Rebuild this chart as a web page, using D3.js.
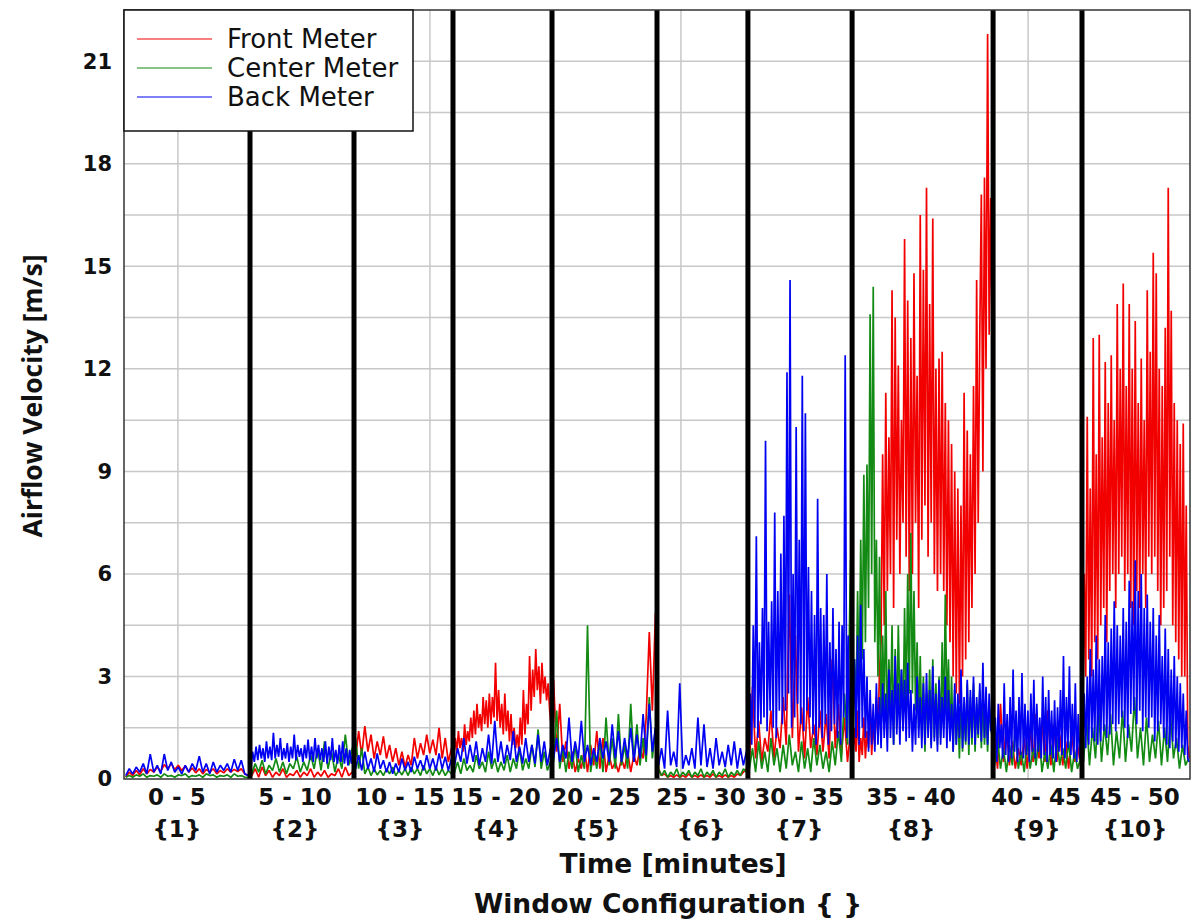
<!DOCTYPE html>
<html>
<head>
<meta charset="utf-8">
<script src="https://cdn.jsdelivr.net/npm/d3@7"></script>
<style>
  html, body { margin: 0; padding: 0; background: #fff; }
  svg { display: block; }
  text { font-family: "DejaVu Sans", sans-serif; fill: #111; }
  .bold { font-weight: bold; }
</style>
</head>
<body>
<div id="chart"></div>
<script>
// Page + plot frame
const WIDTH = 1194, HEIGHT = 920;
const PLOT = { left: 124, right: 1190, top: 10, bottom: 779 };

// Time axis (minutes of recording), split into the ten window configurations
const segmentEdges = [0, 6.265, 11.435, 16.357, 21.28, 26.5, 31.02, 36.2, 43.21, 47.63, 53];
const rangeLabels = ["0 - 5", "5 - 10", "10 - 15", "15 - 20", "20 - 25", "25 - 30", "30 - 35", "35 - 40", "40 - 45", "45 - 50"];
const configLabels = ["{1}", "{2}", "{3}", "{4}", "{5}", "{6}", "{7}", "{8}", "{9}", "{10}"];
const labelTimes = [2.63, 8.5, 13.72, 18.5, 23.47, 28.69, 33.56, 39.13, 45.35, 50.27];
const gridTimes = [2.68, 15.21, 27.69, 44.95];
const yTicks = [0, 3, 6, 9, 12, 15, 18, 21];
const yGrid = [1.5, 3, 4.5, 6, 7.5, 9, 10.5, 12, 13.5, 15, 16.5, 18, 19.5, 21];

const seriesNames = ["Front Meter", "Center Meter", "Back Meter"];
const seriesColors = ["#f20000", "#138a13", "#0000f2"];

// Airflow velocity [m/s], one list per configuration, samples evenly spaced in time
const frontMeter = [
  [0.05,0.2,0.1,0.25,0.12,0.3,0.15,0.28,0.2,0.35,0.22,0.42,0.3,0.45,0.28,0.4,0.25,0.38,0.2,0.32,0.18,0.3,0.15,0.28,0.2,0.3,0.15,0.25,0.18,0.3,0.2,0.28,0.22,0.3,0.15,0.1],
  [0.1,0.3,0.05,0.35,0.1,0.25,0.05,0.2,0.1,0.3,0.05,0.15,0.1,0.25,0.05,0.2,0.1,0.3,0.05,0.2,0.08,0.25,0.05,0.15,0.1,0.3,0.05,0.35,0.1,0.2],
  [0.6,1.4,0.7,1.55,0.8,1.3,0.6,1.1,0.7,1.25,0.6,1.0,0.5,0.9,0.4,0.8,0.35,0.7,0.4,1.2,0.6,1.05,0.7,1.3,0.75,1.15,0.7,1.5,0.6,1.2,0.5,0.9],
  [0.7,1.2,0.8,1.4,0.9,1.2,0.8,1.6,1.0,1.4,1.1,
   1.8,1.2,2.0,1.3,2.2,1.5,1.9,1.4,2.4,1.6,2.3,1.5,2.5,
   1.6,2.4,1.8,3.4,1.7,2.6,1.5,2.2,1.3,2.5,1.4,2.0,1.1,
   1.9,1.0,1.5,0.9,1.3,0.85,1.8,1.0,2.6,1.3,2.2,1.6,3.6,
   2.0,3.2,2.4,3.8,2.6,3.3,2.2,3.4,2.5,3.0,2.3,2.8,2.0,1.5],
  [2.9,0.8,2.2,0.5,1.1,0.3,0.8,0.2,0.6,0.3,0.9,0.2,1.0,0.4,1.4,0.3,1.2,0.2,0.7,0.3,0.5,0.2,0.6,0.3,0.8,0.2,0.7,0.4,0.9,0.6,1.8,4.3,2.0,4.85],
  [0.3,0.1,0.15,0.05,0.1,0.05,0.12,0.05,0.1,0.05,0.15,0.05,0.1,0.05,0.12,0.05,0.1,0.05,0.15,0.05,0.1,0.05,0.12,0.05,0.1,0.05,0.15,0.1,0.2,0.3],
  [0.4,2.7,0.6,1.7,0.5,1.2,0.8,2.0,0.6,1.5,0.9,2.4,1.0,5.4,1.2,4.2,0.8,2.1,0.6,2.4,0.9,1.6,0.7,2.0,0.8,1.9,0.6,3.5,0.9,2.2,0.7,1.8,0.5,1.4],
  [0.6,1.5,0.8,2.0,0.5,1.2,0.7,1.8,0.6,1.4,0.9,2.2,0.7,1.6,1.0,2.4,1.2,3.2,
   4.0,9.5,4.5,11.3,5.5,10.0,6.0,14.3,5.0,13.5,7.0,12.1,6.0,10.5,7.5,15.8,6.5,14.0,5.5,
   12.9,6.0,14.8,7.5,11.8,5.0,16.5,7.0,14.9,8.0,17.3,6.5,13.9,7.5,16.4,6.0,12.0,5.5,12.3,
   6.0,12.5,5.5,11.0,4.5,10.5,4.0,9.8,3.0,9.0,2.5,8.5,2.2,8.0,3.0,11.3,3.5,10.2,4.0,
   9.5,5.0,11.5,6.0,14.6,7.5,13.0,17.1,9.0,17.6,12.0,21.8,13.0,17.0,12.5],
  [1.2,0.3,2.2,0.5,1.6,0.4,1.1,0.3,0.9,0.4,1.2,0.3,1.5,0.5,1.9,0.6,1.7,0.5,2.0,0.4,1.6,0.5,1.3,0.4,1.1,0.3,1.4,0.5,1.0,0.4],
  [1.5,6.0,3.0,10.6,3.5,8.5,3.0,12.9,4.0,9.5,3.5,13.0,
   4.5,10.0,5.0,12.2,4.0,11.0,5.5,12.4,6.0,10.5,5.0,13.9,
   6.0,12.0,6.5,14.5,5.5,11.5,6.0,13.9,5.0,12.0,4.5,13.4,
   5.5,11.0,5.0,12.3,6.0,10.5,5.0,14.3,6.5,12.5,6.0,15.4,
   6.5,14.8,5.5,12.0,4.5,11.5,5.0,13.2,5.5,17.3,6.5,13.7,
   4.5,11.0,4.0,10.5,3.5,9.8,3.0,10.4,3.0,8.0,1.0,0.6]
];

const centerMeter = [
  [0.05,0.1,0.05,0.12,0.08,0.15,0.05,0.1,0.08,0.12,0.05,0.15,0.08,0.1,0.05,0.12,0.1,0.15,0.05,0.1,0.08,0.12,0.05,0.15,0.1,0.12,0.05,0.1,0.08,0.12,0.05,0.15,0.08,0.1,0.05,0.05],
  [0.15,0.45,0.2,0.55,0.15,0.4,0.25,0.6,0.2,0.5,0.15,0.45,0.3,0.65,0.2,0.5,0.25,0.7,0.3,0.9,0.25,1.1,0.3,0.8,0.2,0.7,0.3,1.3,0.4,0.9],
  [1.2,0.3,0.9,0.15,0.35,0.1,0.3,0.12,0.25,0.1,0.3,0.15,0.35,0.1,0.25,0.12,0.3,0.1,0.35,0.15,0.3,0.1,0.4,0.15,0.3,0.1,0.35,0.12,0.3,0.1,0.25,0.15],
  [0.2,0.5,0.15,0.6,0.25,0.4,0.2,0.7,0.3,0.5,0.2,0.8,0.3,0.6,0.2,0.5,0.25,0.7,0.2,0.6,0.3,0.9,0.25,0.6,0.3,1.0,0.35,1.45,0.3,0.8,0.25,0.5],
  [0.5,2.0,0.3,0.9,0.2,0.8,0.3,1.0,0.2,0.7,0.3,4.5,0.2,0.8,0.3,1.1,0.2,1.8,0.4,1.2,0.3,1.9,0.4,1.0,0.3,2.2,0.5,1.6,0.4,1.2,0.5,2.4,0.6,1.5],
  [0.3,0.1,0.25,0.05,0.2,0.1,0.3,0.05,0.2,0.1,0.25,0.05,0.2,0.1,0.3,0.05,0.2,0.1,0.25,0.05,0.2,0.1,0.3,0.05,0.2,0.1,0.25,0.1,0.3,0.2],
  [0.3,0.9,0.2,1.1,0.3,0.8,0.2,1.2,0.4,0.9,0.2,1.0,0.3,1.3,0.4,0.8,0.2,1.1,0.3,0.9,0.2,1.2,0.4,1.0,0.3,0.8,0.2,1.1,0.4,1.4,0.5,2.5,1.0,6.4],
  [1.0,3.5,2.0,5.5,2.5,7.0,3.5,8.9,4.0,9.2,5.0,13.6,6.0,14.4,4.0,7.0,3.0,6.5,
   1.5,4.2,2.0,5.5,1.2,3.5,1.8,4.5,1.0,3.8,1.5,4.5,2.0,3.2,1.5,5.0,2.0,6.0,2.5,
   7.2,2.5,5.5,2.0,4.0,1.5,3.6,1.2,3.0,0.8,2.5,1.5,3.2,1.0,3.5,1.2,2.8,1.0,3.0,
   1.2,4.0,1.5,5.4,2.0,3.5,1.2,3.0,0.8,2.6,1.0,2.2,0.6,2.5,0.8,2.0,1.0,2.8,0.7,
   2.4,1.0,2.8,0.8,2.2,1.2,2.6,0.9,2.4,1.0,2.0,0.8,2.2,1.5,1.2],
  [0.4,1.2,0.3,0.9,0.2,1.0,0.4,1.5,0.3,0.8,0.2,1.1,0.3,0.9,0.4,1.3,0.2,0.8,0.3,1.0,0.2,1.2,0.4,0.9,0.3,1.1,0.2,0.8,0.3,0.6],
  [0.5,1.8,0.4,1.5,0.6,2.2,0.5,1.6,0.7,1.9,0.4,1.4,0.6,2.0,0.5,1.6,0.8,2.4,0.6,1.5,0.4,1.8,0.5,1.3,0.6,1.7,0.4,1.5,0.5,1.9,0.6,1.2,0.3,1.0,0.4,0.6]
];

const backMeter = [
  [0.1,0.3,0.15,0.35,0.2,0.45,0.15,0.73,0.2,0.4,0.15,0.73,0.25,0.5,0.2,0.35,0.15,0.4,0.2,0.45,0.25,0.67,0.2,0.45,0.15,0.5,0.2,0.4,0.25,0.45,0.2,0.58,0.25,0.55,0.15,0.1],
  [0.3,0.8,0.5,0.95,0.55,1.0,0.6,0.9,0.5,1.1,0.6,0.95,0.55,1.35,0.6,1.0,0.65,1.2,0.55,
   0.9,0.6,1.05,0.5,0.95,0.6,1.3,0.55,1.0,0.65,0.9,0.5,1.0,0.6,1.15,0.55,0.95,0.5,1.2,0.6,1.0,
   0.55,0.9,0.5,1.1,0.45,0.95,0.55,1.2,0.5,0.85,0.45,1.0,0.5,1.1,0.45,0.9,0.4,0.85,0.45,0.8],
  [0.3,0.7,0.25,0.8,0.3,0.6,0.2,0.75,0.3,0.55,0.2,0.5,0.15,0.45,0.2,0.6,0.25,0.5,0.2,0.65,0.3,0.55,0.25,0.7,0.3,0.6,0.25,0.75,0.3,0.65,0.25,0.6],
  [0.4,0.9,0.5,1.2,0.45,1.0,0.5,1.1,0.4,0.9,0.5,1.3,0.45,1.7,0.5,1.1,0.45,1.0,0.55,1.4,0.5,0.95,0.45,1.2,0.5,1.0,0.45,1.3,0.5,1.1,0.4,0.9],
  [0.6,1.2,0.5,1.0,0.6,1.8,0.5,1.1,0.6,1.7,0.5,1.0,0.4,0.9,0.5,1.2,0.6,1.1,0.5,1.6,0.6,1.4,0.5,1.2,0.6,1.5,0.5,1.3,0.6,1.9,0.7,2.2,0.8,1.5],
  [0.4,0.9,0.3,2.0,0.4,0.8,0.35,2.8,0.3,0.7,0.4,0.9,0.3,1.8,0.4,1.6,0.35,0.9,0.3,1.2,0.4,0.8,0.35,1.0,0.4,1.1,0.3,0.9,0.4,0.8],
  [0.8,2.5,1.0,4.5,1.5,7.1,1.2,4.0,1.6,5.0,1.8,9.9,
   1.4,4.6,2.0,5.2,1.5,7.8,1.2,5.5,2.0,6.6,1.6,7.7,
   2.0,11.9,2.5,14.6,1.5,6.0,1.8,10.3,2.2,7.0,1.6,11.8,
   1.4,10.7,2.0,6.2,1.8,5.5,1.3,4.8,1.0,8.2,1.5,5.0,
   1.2,4.8,1.6,6.0,1.0,4.0,1.4,5.0,1.6,3.8,1.2,4.6,
   1.0,4.5,1.8,12.4,1.2,4.2,1.0,3.0],
  [1.5,3.5,1.2,4.2,1.0,5.1,1.5,3.8,1.2,3.0,0.8,2.6,1.0,2.2,0.8,2.8,1.0,2.4,
   0.9,2.8,1.2,2.5,0.8,3.2,1.2,2.6,1.0,3.6,1.3,2.8,1.0,3.2,1.4,2.9,1.1,3.4,1.2,
   2.6,0.8,2.2,1.0,3.0,1.2,2.4,0.9,2.8,1.0,3.1,1.2,2.6,0.9,3.3,1.1,2.5,0.8,2.9,
   1.0,2.4,1.2,3.0,0.9,2.6,1.1,2.2,0.8,2.8,1.0,2.5,1.2,3.2,0.9,2.4,1.1,2.9,1.0,
   2.6,1.2,3.0,1.0,2.4,1.3,2.8,1.1,3.4,1.2,2.7,1.0,2.5,1.4,2.0],
  [0.8,1.8,0.5,2.2,0.9,1.6,0.6,2.8,0.7,1.9,0.5,2.4,0.6,3.2,0.8,2.0,0.5,2.4,0.7,3.1,
   0.6,2.2,0.7,2.0,0.5,2.5,0.8,2.9,0.6,2.2,0.8,1.8,0.6,3.0,0.7,2.4,0.5,2.6,0.7,2.0,
   0.6,2.3,0.5,2.1,0.8,2.6,0.7,3.6,0.6,2.4,0.9,3.3,0.7,2.2,0.6,2.8,0.5,1.9,0.6,1.2],
  [0.8,2.5,0.9,3.0,1.0,3.8,1.2,3.2,1.1,4.2,1.0,3.5,
   1.1,3.6,1.4,4.8,1.2,4.0,1.3,4.4,1.6,5.2,1.4,4.5,
   1.6,4.2,1.8,5.0,1.5,4.6,1.2,5.8,1.9,5.2,2.0,6.4,
   1.6,5.5,2.0,6.0,1.4,5.0,1.8,5.4,1.5,4.6,1.8,5.0,
   1.1,4.2,1.4,4.8,1.6,3.6,1.2,4.4,1.0,3.8,0.9,3.2,
   1.1,3.6,0.9,3.0,0.8,2.8,0.9,2.5,0.7,2.0,0.6,0.5]
];

drawChart();

/**
 * Turns a list of per-configuration samples into {t, v} points.
 */
function toPoints (segments) {
  const pts = [];
  segments.forEach((vals, i) => {
    const t0 = segmentEdges[i], t1 = segmentEdges[i + 1];
    vals.forEach((v, j) => pts.push({ t: t0 + (j + 0.5) / vals.length * (t1 - t0), v: v }));
  });
  return pts;
}

function drawChart () {
  const svg = d3.select("#chart").append("svg")
    .attr("width", WIDTH).attr("height", HEIGHT);

  const xScale = d3.scaleLinear()
    .domain([segmentEdges[0], segmentEdges[segmentEdges.length - 1]])
    .range([PLOT.left, PLOT.right]);
  const yScale = d3.scaleLinear()
    .domain([0, 22.5])
    .range([PLOT.bottom, PLOT.top]);

  // Grid
  const grid = svg.append("g").attr("stroke", "#c8c8c8").attr("stroke-width", 1.5);
  grid.selectAll(".hg").data(yGrid).enter().append("line")
    .attr("x1", PLOT.left).attr("x2", PLOT.right)
    .attr("y1", d => yScale(d)).attr("y2", d => yScale(d));
  grid.selectAll(".vg").data(gridTimes).enter().append("line")
    .attr("x1", d => xScale(d)).attr("x2", d => xScale(d))
    .attr("y1", PLOT.top).attr("y2", PLOT.bottom);

  // Series (front first, back on top)
  const line = d3.line().x(d => xScale(d.t)).y(d => yScale(d.v));
  [frontMeter, centerMeter, backMeter].forEach((s, i) => {
    svg.append("path")
      .datum(toPoints(s))
      .attr("d", line)
      .attr("fill", "none")
      .attr("stroke", seriesColors[i])
      .attr("stroke-width", 1.7)
      .attr("stroke-linejoin", "bevel");
  });

  // Configuration dividers
  svg.append("g").selectAll("line")
    .data(segmentEdges.slice(1, -1)).enter().append("line")
    .attr("x1", d => xScale(d)).attr("x2", d => xScale(d))
    .attr("y1", PLOT.top).attr("y2", PLOT.bottom)
    .attr("stroke", "#000").attr("stroke-width", 5);

  // Frame
  svg.append("rect")
    .attr("x", PLOT.left).attr("y", PLOT.top)
    .attr("width", PLOT.right - PLOT.left).attr("height", PLOT.bottom - PLOT.top)
    .attr("fill", "none").attr("stroke", "#333").attr("stroke-width", 1.5);

  // Y axis
  const yAxis = d3.axisLeft(yScale).tickValues(yTicks).tickSize(0).tickPadding(12);
  const yg = svg.append("g").attr("transform", `translate(${PLOT.left},0)`).call(yAxis);
  yg.select(".domain").remove();
  yg.selectAll("text")
    .attr("class", "bold")
    .style("font-size", "21px")
    .style("font-family", "'DejaVu Sans', sans-serif")
    .attr("fill", "#111");

  // X labels: time range + configuration number
  const xl = svg.append("g").attr("class", "bold").attr("text-anchor", "middle").style("font-size", "23px");
  xl.selectAll(".range").data(labelTimes).enter().append("text")
    .attr("x", d => xScale(d)).attr("y", 805)
    .text((d, i) => rangeLabels[i]);
  xl.selectAll(".cfg").data(labelTimes).enter().append("text")
    .attr("x", d => xScale(d)).attr("y", 837)
    .text((d, i) => configLabels[i]);

  // Axis titles
  svg.append("text").attr("class", "bold").attr("text-anchor", "middle")
    .style("font-size", "26.5px").attr("x", 673).attr("y", 873)
    .text("Time [minutes]");
  svg.append("text").attr("class", "bold").attr("text-anchor", "middle")
    .style("font-size", "26.5px").attr("x", 668).attr("y", 913)
    .text("Window Configuration { }");
  svg.append("text").attr("class", "bold").attr("text-anchor", "middle")
    .style("font-size", "26.5px")
    .style("font-family", "'Open Sans', sans-serif")
    .attr("transform", "translate(42,396) rotate(-90)")
    .text("Airflow Velocity [m/s]");

  // Legend
  const lg = svg.append("g");
  lg.append("rect")
    .attr("x", PLOT.left).attr("y", PLOT.top).attr("width", 289).attr("height", 121)
    .attr("fill", "#fff").attr("stroke", "#111").attr("stroke-width", 1.5);
  seriesNames.forEach((name, i) => {
    const y = 39 + i * 29;
    lg.append("line").attr("x1", 137).attr("x2", 212).attr("y1", y).attr("y2", y)
      .attr("stroke", seriesColors[i]).attr("stroke-width", 1.2);
    lg.append("text").attr("x", 227).attr("y", y + 8.5)
      .style("font-size", "26px").text(name);
  });
}
</script>
</body>
</html>
